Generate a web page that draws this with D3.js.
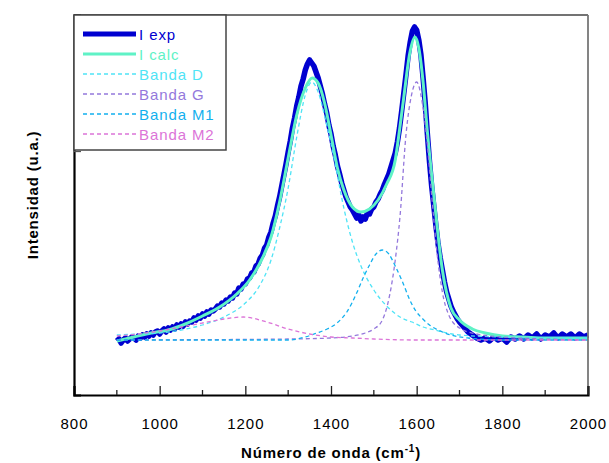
<!DOCTYPE html>
<meta charset="utf-8">
<script src="https://cdn.jsdelivr.net/npm/d3@7"></script>
<style>
body { margin: 0; background: #fff; }
text { font-family: "Liberation Sans", Arial, sans-serif; }
.tick-label { font-size: 15px; letter-spacing: 1px; fill: #000; }
.axis-title { font-size: 15px; font-weight: bold; letter-spacing: 0.8px; fill: #000; }
.legend-text { font-size: 15px; letter-spacing: 0.9px; }
</style>
<body>
<script>

// x ticks (cm-1) and the single y tick (a.u.)
var xTicks = [800, 1000, 1200, 1400, 1600, 1800, 2000];
var xMinor = [900, 1100, 1300, 1500, 1700, 1900];
var yTicks = [189];

// experimental spectrum [wavenumber, intensity a.u.]
var iExp = [
  [900,-1],[905,1],[910,-3],[915,0],[920,2],[925,-1],[930,1],[935,3],[940,2],[945,0],
  [950,4],[955,2],[960,5],[965,3],[970,6],[975,4],[980,7],[985,5],[990,8],[995,9],
  [1000,6],[1005,9],[1010,11],[1015,8],[1020,12],[1025,10],[1030,13],[1035,11],[1040,15],[1045,13],
  [1050,16],[1055,14],[1060,18],[1065,16],[1070,19],[1075,18],[1080,22],[1085,20],[1090,24],[1095,22],
  [1100,26],[1105,24],[1110,28],[1115,26],[1120,30],[1125,29],[1130,31],[1135,34],[1140,33],[1145,37],
  [1150,36],[1155,40],[1160,39],[1165,43],[1170,42],[1175,47],[1180,46],[1185,52],[1190,51],[1195,56],
  [1200,56],[1205,61],[1210,62],[1215,67],[1220,68],[1225,74],[1230,76],[1235,82],[1240,85],[1245,92],
  [1250,95],[1255,103],[1260,108],[1265,117],[1270,124],[1275,134],[1280,143],[1285,154],[1290,165],[1295,176],
  [1300,188],[1305,199],[1310,212],[1315,222],[1320,234],[1325,243],[1330,254],[1335,261],[1340,270],[1345,276],
  [1350,280],[1355,277],[1360,274],[1365,268],[1370,262],[1375,254],[1380,246],[1385,236],[1390,227],[1395,215],
  [1400,206],[1405,194],[1410,185],[1415,174],[1420,166],[1425,157],[1430,150],[1435,143],[1440,138],[1445,133],
  [1450,130],[1455,126],[1460,122],[1465,125],[1470,119],[1475,123],[1480,121],[1485,127],[1490,126],[1495,131],
  [1500,133],[1505,138],[1510,141],[1515,146],[1520,150],[1525,156],[1530,161],[1535,166],[1540,173],[1545,180],
  [1550,187],[1555,198],[1560,212],[1565,229],[1570,247],[1575,265],[1580,284],[1585,298],[1590,309],[1595,313],
  [1600,310],[1605,300],[1610,285],[1615,262],[1620,237],[1625,206],[1630,178],[1635,154],[1640,134],[1645,114],
  [1650,96],[1655,82],[1660,70],[1665,58],[1670,48],[1675,41],[1680,34],[1685,29],[1690,25],[1695,21],
  [1700,18],[1710,13],[1720,8],[1730,5],[1740,2],[1750,0],[1760,2],[1770,-1],[1780,3],[1790,0],
  [1800,2],[1810,-2],[1820,3],[1830,1],[1840,4],[1850,1],[1860,5],[1870,2],[1880,6],[1890,1],
  [1900,5],[1910,3],[1920,7],[1930,2],[1940,6],[1950,3],[1960,6],[1970,2],[1980,6],[1990,3],[2000,5]
];

// fitted spectrum
var iCalc = [
  [900,-1],[940,3],[980,7],[1020,10],[1060,16],[1100,24],[1140,33],[1180,46],[1210,60],[1240,82],
  [1260,103],[1280,138],[1300,182],[1320,225],[1340,252],[1356,262],[1370,257],[1385,237],[1400,205],[1415,172],
  [1430,150],[1450,133],[1470,128],[1490,131],[1510,140],[1530,156],[1550,180],[1560,210],[1570,243],[1584,287],
  [1596,303],[1605,292],[1615,258],[1625,208],[1640,145],[1660,70],[1680,32],[1700,20],[1730,11],[1760,7],
  [1800,4],[1850,3],[1900,2],[1950,2],[2000,2]
];

var bandaD = [
  [900,5],[950,6],[1000,7],[1050,10],[1100,15],[1150,23],[1200,37],[1230,52],[1260,80],[1280,112],
  [1300,152],[1320,203],[1340,245],[1355,258],[1370,248],[1390,215],[1410,176],[1426,140],[1450,98],[1470,74],
  [1500,50],[1530,34],[1565,22],[1589,18],[1615,13],[1643,10],[1671,7],[1700,5],[1800,3],[1900,2],[2000,2]
];

var bandaG = [
  [900,0],[1300,1],[1400,2],[1450,4],[1480,7],[1500,11],[1520,20],[1537,45],[1550,80],[1561,123],
  [1575,205],[1588,245],[1600,258],[1612,240],[1624,200],[1636,140],[1648,85],[1660,48],[1675,25],[1700,12],
  [1740,6],[1800,3],[1900,1],[2000,0]
];

var bandaM1 = [
  [900,0],[1300,0],[1340,3],[1367,7],[1391,11],[1414,17],[1437,28],[1461,48],[1475,62],[1490,75],
  [1505,86],[1520,90],[1535,86],[1550,74],[1568,57],[1584,40],[1598,29],[1612,22],[1630,15],[1650,10],
  [1680,5],[1720,2],[1800,0],[2000,0]
];

var bandaM2 = [
  [900,4],[950,6],[1000,9],[1050,13],[1100,17],[1150,21],[1195,23],[1250,18],[1300,11],[1350,6],
  [1400,3],[1450,2],[1500,1],[1600,0],[2000,0]
];

var series = [
  {name: "I exp",    data: iExp,    color: "#0000d0", width: 5.5, dash: null},
  {name: "I calc",   data: iCalc,   color: "#5ff2c6", width: 3,   dash: null},
  {name: "Banda D",  data: bandaD,  color: "#4fe4f6", width: 1.3, dash: "4,3"},
  {name: "Banda G",  data: bandaG,  color: "#9478dc", width: 1.3, dash: "4,3"},
  {name: "Banda M1", data: bandaM1, color: "#12b0ee", width: 1.3, dash: "4,3"},
  {name: "Banda M2", data: bandaM2, color: "#dc74d8", width: 1.3, dash: "4,3"}
];

var width = 609, height = 463;
var margin = {left: 74, right: 21, top: 15, bottom: 68};

var x = d3.scaleLinear().domain([800, 2000]).range([margin.left, width - margin.right]);
var y = d3.scaleLinear().domain([-55, 325]).range([height - margin.bottom, margin.top]);

var svg = d3.select("body").append("svg")
    .attr("width", width)
    .attr("height", height);

var line = d3.line()
    .x(function(d) { return x(d[0]); })
    .y(function(d) { return y(d[1]); });

series.forEach(function(s) {
  // exp is raw data -> straight segments, the rest are smooth fits
  line.curve(s.name == "I exp" ? d3.curveLinear : d3.curveMonotoneX);
  svg.append("path")
      .datum(s.data)
      .attr("fill", "none")
      .attr("stroke", s.color)
      .attr("stroke-width", s.width)
      .attr("stroke-dasharray", s.dash)
      .attr("stroke-linejoin", "round")
      .attr("d", line);
});

// frame: top/right grey, left/bottom black
var x0 = margin.left, x1 = width - margin.right, y0 = margin.top, y1 = height - margin.bottom;
svg.append("line").attr("x1", x0).attr("x2", x1).attr("y1", y0).attr("y2", y0)
    .attr("stroke", "#444").attr("stroke-width", 1.5);
svg.append("line").attr("x1", x1).attr("x2", x1).attr("y1", y0).attr("y2", y1)
    .attr("stroke", "#777").attr("stroke-width", 1.8);

// bottom axis, ticks pointing inward
var xAxis = d3.axisBottom(x).tickValues(xTicks).tickSize(-9).tickPadding(23).tickFormat(d3.format("d"));
var gx = svg.append("g").attr("transform", "translate(0," + y1 + ")").call(xAxis);
gx.select(".domain").attr("stroke", "#000").attr("stroke-width", 2.2);
gx.selectAll(".tick line").attr("stroke", "#222").attr("stroke-width", 1.3);
gx.selectAll(".tick text").attr("class", "tick-label").attr("font-size", null).attr("font-family", null);
gx.selectAll(".minor").data(xMinor).enter().append("line")
    .attr("x1", function(d) { return x(d); }).attr("x2", function(d) { return x(d); })
    .attr("y1", 0).attr("y2", -5)
    .attr("stroke", "#222").attr("stroke-width", 1.3);

var yAxis = d3.axisLeft(y).tickValues(yTicks).tickSize(-7).tickFormat("");
var gy = svg.append("g").attr("transform", "translate(" + x0 + ",0)").call(yAxis);
gy.select(".domain").attr("stroke", "#000").attr("stroke-width", 2.2);
gy.selectAll(".tick line").attr("stroke", "#555").attr("stroke-width", 1.3);

// axis titles
var xt = svg.append("text").attr("class", "axis-title")
    .attr("x", (x0 + x1) / 2).attr("y", 458).attr("text-anchor", "middle");
xt.append("tspan").text("Número de onda (cm");
xt.append("tspan").attr("dy", -6).attr("font-size", "10px").text("-1");
xt.append("tspan").attr("dy", 6).text(")");

svg.append("text").attr("class", "axis-title")
    .attr("transform", "translate(38," + 195 + ") rotate(-90)")
    .attr("text-anchor", "middle")
    .text("Intensidad (u.a.)");

// legend
var leg = svg.append("g");
leg.append("rect")
    .attr("x", x0).attr("y", y0).attr("width", 152).attr("height", 135)
    .attr("fill", "#fff").attr("stroke", "#444").attr("stroke-width", 1.5);
var rowY = d3.scalePoint().domain(series.map(function(s) { return s.name; })).range([34, 134]);
series.forEach(function(s) {
  var yy = rowY(s.name);
  leg.append("line")
      .attr("x1", 83).attr("x2", 136).attr("y1", yy).attr("y2", yy)
      .attr("stroke", s.color).attr("stroke-width", s.width == 5.5 ? 5 : s.width)
      .attr("stroke-dasharray", s.dash);
  leg.append("text").attr("class", "legend-text")
      .attr("x", 139).attr("y", yy + 5.5)
      .attr("fill", s.color)
      .text(s.name);
});

</script>
</body>
</html>
